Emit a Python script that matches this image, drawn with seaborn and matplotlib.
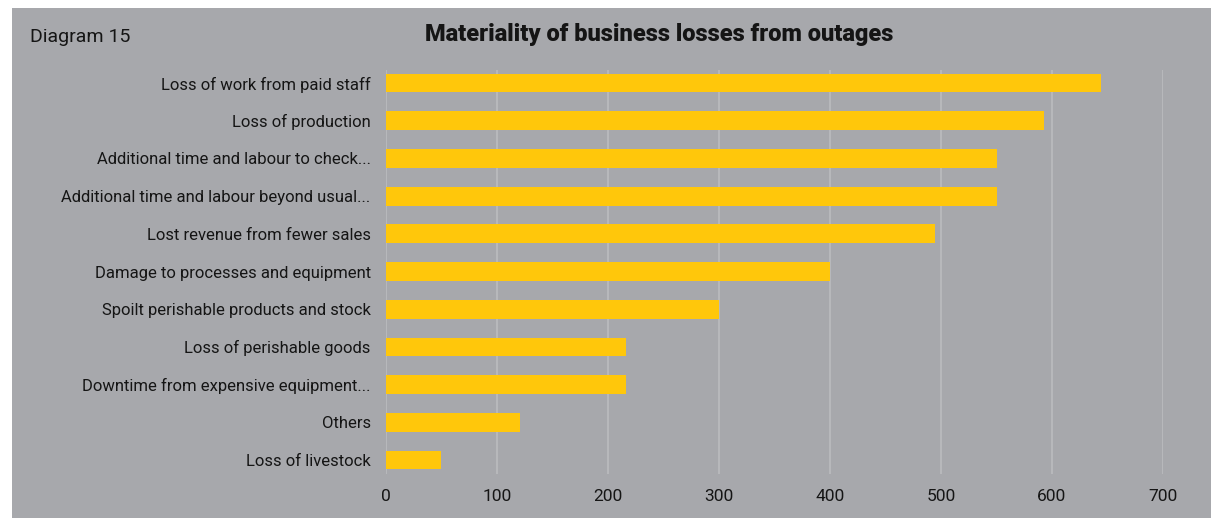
import pandas as pd
import seaborn as sns
import matplotlib.pyplot as plt
from matplotlib.patches import Rectangle

# Data
categories = [
    "Loss of work from paid staff",
    "Loss of production",
    "Additional time and labour to check...",
    "Additional time and labour beyond usual...",
    "Lost revenue from fewer sales",
    "Damage to processes and equipment",
    "Spoilt perishable products and stock",
    "Loss of perishable goods",
    "Downtime from expensive equipment...",
    "Others",
    "Loss of livestock",
]
values = [644, 593, 550, 550, 495, 400, 300, 216, 216, 121, 50]
x_ticks = [0, 100, 200, 300, 400, 500, 600, 700]

df = pd.DataFrame({"category": categories, "value": values})

bg = "#A7A8AC"
bar_color = "#FFC70B"
grid_color = "#BCBDC0"
text_color = "#151515"

sns.set_style("white")
plt.rcParams["font.family"] = ["Roboto", "DejaVu Sans"]

fig = plt.figure(figsize=(12.11, 5.18), dpi=100)
fig.patch.set_facecolor("white")
# grey panel behind everything, leaving a thin white frame
fig.patches.append(Rectangle((12 / 1211, 0), 1 - 12 / 1211, 1 - 8 / 518,
                             transform=fig.transFigure, facecolor=bg,
                             edgecolor="none", zorder=-10))

ax = fig.add_axes([386 / 1211, 1 - 474 / 518, (1163 - 386) / 1211, (474 - 70) / 518])
ax.set_zorder(5)
ax.set_facecolor("none")

sns.barplot(data=df, x="value", y="category", color=bar_color, width=0.5,
            saturation=1, linewidth=0, ax=ax, zorder=3)

ax.set_xlim(0, 700)
ax.set_ylim(10.37, -0.345)
ax.set_xticks(x_ticks)
ax.set_xticklabels([str(t) for t in x_ticks])
ax.grid(axis="x", color=grid_color, linewidth=1.1, zorder=0)
ax.set_axisbelow(True)
for s in ax.spines.values():
    s.set_visible(False)
ax.set_xlabel("")
ax.set_ylabel("")
ax.tick_params(axis="y", length=0, labelsize=12, colors=text_color, pad=11)
ax.tick_params(axis="x", length=0, labelsize=12.5, colors=text_color, pad=11)

fig.text(30 / 1211, 1 - 37 / 518, "Diagram 15", fontsize=14, color=text_color,
         ha="left", va="center", zorder=6)
fig.text(659 / 1211, 1 - 35 / 518, "Materiality of business losses from outages",
         fontsize=17, fontweight="heavy", color=text_color, ha="center",
         va="center", zorder=6)

fig.savefig("out.png", dpi=100, facecolor=fig.get_facecolor())
